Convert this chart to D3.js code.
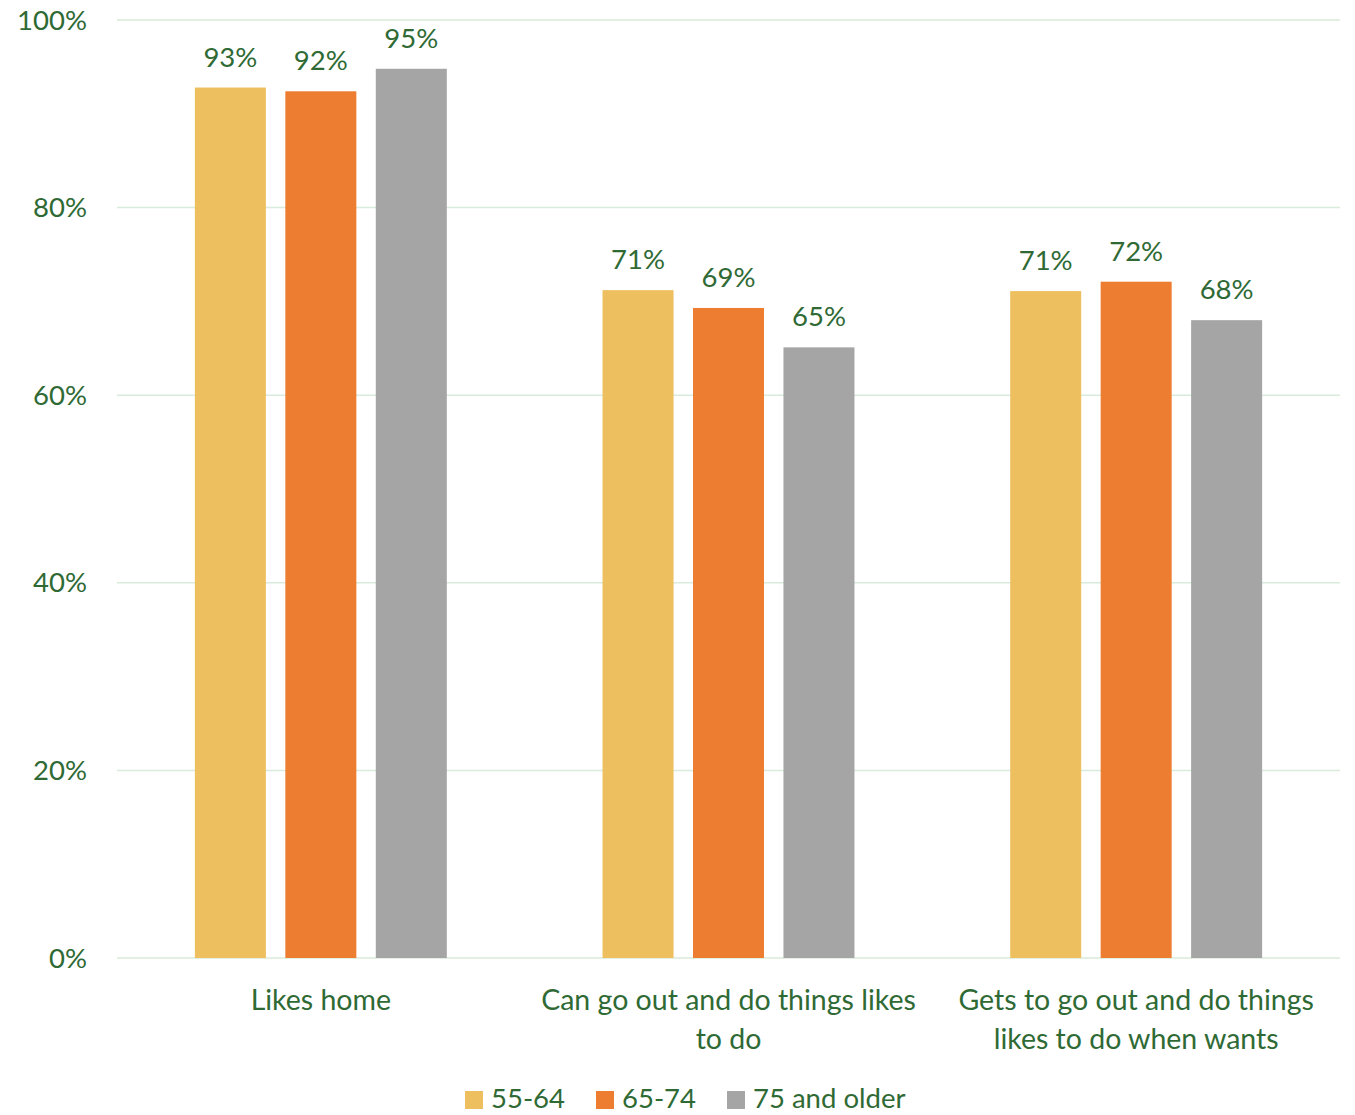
<!DOCTYPE html>
<html><head><meta charset="utf-8">
<script src="https://cdn.jsdelivr.net/npm/d3@7"></script>
<style>body{margin:0;background:#fff;} text{font-family:Lato,"Open Sans",sans-serif;}</style>
</head><body>
<svg id="c" width="1355" height="1115"></svg>
<script>
const categories = [["Likes home"], ["Can go out and do things likes", "to do"], ["Gets to go out and do things", "likes to do when wants"]];
const categoryKeys = ["Likes home", "Can go out and do things likes to do", "Gets to go out and do things likes to do when wants"];
const seriesNames = ["55-64", "65-74", "75 and older"];
const s1 = [92.8, 71.2, 71.1];
const s2 = [92.4, 69.3, 72.1];
const s3 = [94.8, 65.1, 68.0];
const seriesLabels = [["93%","71%","71%"],["92%","69%","72%"],["95%","65%","68%"]];
const yTicks = [0, 20, 40, 60, 80, 100];
const colors = ["#EEBF5F", "#ED7D31", "#A5A5A5"];
const textColor = "#2F6A35";

(function(){
const svg = d3.select("#c");
const pLeft = 117, pRight = 1340, pTop = 20, pBottom = 958;
const y = d3.scaleLinear().domain([0, 100]).range([pBottom, pTop]);
const x0 = d3.scaleBand().domain(categoryKeys).range([pLeft, pRight]).paddingInner(0.382).paddingOuter(0.191);
const x1 = d3.scaleBand().domain(seriesNames).range([0, x0.bandwidth()]).paddingInner(0.215).paddingOuter(0);

svg.append("g").selectAll("line").data(yTicks).join("line")
  .attr("x1", pLeft).attr("x2", pRight)
  .attr("y1", d => y(d)).attr("y2", d => y(d))
  .attr("stroke", "#D9EBDB").attr("stroke-width", 1.5);

svg.append("g").selectAll("text").data(yTicks).join("text")
  .attr("x", 87).attr("y", d => y(d)).attr("dy", "0.35em")
  .attr("text-anchor", "end").attr("fill", textColor).attr("font-size", 27.5)
  .text(d => d + "%");

const series = [s1, s2, s3];
series.forEach((vals, si) => {
  const g = svg.append("g");
  g.selectAll("rect").data(vals).join("rect")
    .attr("x", (d, i) => x0(categoryKeys[i]) + x1(seriesNames[si]))
    .attr("y", d => y(d))
    .attr("width", x1.bandwidth())
    .attr("height", d => pBottom - y(d))
    .attr("fill", colors[si]);
  g.selectAll("text").data(vals).join("text")
    .attr("x", (d, i) => x0(categoryKeys[i]) + x1(seriesNames[si]) + x1.bandwidth() / 2)
    .attr("y", d => y(d) - 21)
    .attr("text-anchor", "middle").attr("fill", textColor).attr("font-size", 27.5)
    .text((d, i) => seriesLabels[si][i]);
});

categories.forEach((lines, i) => {
  const cx = x0(categoryKeys[i]) + x0.bandwidth() / 2;
  const t = svg.append("text")
    .attr("x", cx).attr("y", 1010)
    .attr("text-anchor", "middle").attr("fill", textColor).attr("font-size", 28.5);
  lines.forEach((l, j) => {
    t.append("tspan").attr("x", cx).attr("dy", j === 0 ? 0 : 39).text(l);
  });
});

const legendX = [465, 596, 727];
const lg = svg.append("g");
seriesNames.forEach((n, i) => {
  lg.append("rect").attr("x", legendX[i]).attr("y", 1091).attr("width", 18).attr("height", 18).attr("fill", colors[i]);
  lg.append("text").attr("x", legendX[i] + 26).attr("y", 1108)
    .attr("fill", textColor).attr("font-size", 27.5).text(n);
});
})();
</script>
</body></html>
